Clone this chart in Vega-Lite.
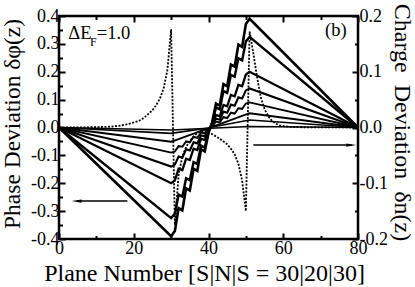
{
"$schema": "https://vega.github.io/schema/vega-lite/v6.json",
"width": 299, "height": 223,
"autosize": "none",
"padding": {"left": 59, "top": 16, "right": 57, "bottom": 48},
"background": "white",
"config": {
 "view": {"stroke": "black", "strokeWidth": 2.5},
 "axis": {"domain": false, "grid": false, "labelFont": "Liberation Serif", "labelFontSize": 18, "labelColor": "black", "titleFont": "Liberation Serif", "titleFontSize": 24, "titleFontWeight": "normal", "titleColor": "black", "tickColor": "black", "tickWidth": 2, "labelFlush": false, "labelOverlap": false}
},
"datasets": {
 "phase": [
  {"c":"c1","z":0,"v":0},{"c":"c1","z":30,"v":-0.39},{"c":"c1","z":31,"v":-0.371},{"c":"c1","z":32,"v":-0.289},{"c":"c1","z":33,"v":-0.297},{"c":"c1","z":34,"v":-0.218},{"c":"c1","z":35,"v":-0.226},{"c":"c1","z":36,"v":-0.148},{"c":"c1","z":37,"v":-0.156},{"c":"c1","z":38,"v":-0.078},{"c":"c1","z":39,"v":-0.086},{"c":"c1","z":40,"v":-0.02},{"c":"c1","z":41,"v":0.02},{"c":"c1","z":42,"v":0.086},{"c":"c1","z":43,"v":0.078},{"c":"c1","z":44,"v":0.156},{"c":"c1","z":45,"v":0.148},{"c":"c1","z":46,"v":0.226},{"c":"c1","z":47,"v":0.218},{"c":"c1","z":48,"v":0.297},{"c":"c1","z":49,"v":0.289},{"c":"c1","z":50,"v":0.371},{"c":"c1","z":51,"v":0.39},{"c":"c1","z":80,"v":0},
  {"c":"c2","z":0,"v":0},{"c":"c2","z":30,"v":-0.325},{"c":"c2","z":31,"v":-0.309},{"c":"c2","z":32,"v":-0.241},{"c":"c2","z":33,"v":-0.248},{"c":"c2","z":34,"v":-0.182},{"c":"c2","z":35,"v":-0.189},{"c":"c2","z":36,"v":-0.124},{"c":"c2","z":37,"v":-0.131},{"c":"c2","z":38,"v":-0.065},{"c":"c2","z":39,"v":-0.072},{"c":"c2","z":40,"v":-0.016},{"c":"c2","z":41,"v":0.016},{"c":"c2","z":42,"v":0.072},{"c":"c2","z":43,"v":0.065},{"c":"c2","z":44,"v":0.131},{"c":"c2","z":45,"v":0.124},{"c":"c2","z":46,"v":0.189},{"c":"c2","z":47,"v":0.182},{"c":"c2","z":48,"v":0.248},{"c":"c2","z":49,"v":0.241},{"c":"c2","z":50,"v":0.309},{"c":"c2","z":51,"v":0.325},{"c":"c2","z":80,"v":0},
  {"c":"c3","z":0,"v":0},{"c":"c3","z":30,"v":-0.2},{"c":"c3","z":31,"v":-0.19},{"c":"c3","z":32,"v":-0.148},{"c":"c3","z":33,"v":-0.153},{"c":"c3","z":34,"v":-0.112},{"c":"c3","z":35,"v":-0.117},{"c":"c3","z":36,"v":-0.076},{"c":"c3","z":37,"v":-0.081},{"c":"c3","z":38,"v":-0.04},{"c":"c3","z":39,"v":-0.045},{"c":"c3","z":40,"v":-0.01},{"c":"c3","z":41,"v":0.01},{"c":"c3","z":42,"v":0.045},{"c":"c3","z":43,"v":0.04},{"c":"c3","z":44,"v":0.081},{"c":"c3","z":45,"v":0.076},{"c":"c3","z":46,"v":0.117},{"c":"c3","z":47,"v":0.112},{"c":"c3","z":48,"v":0.153},{"c":"c3","z":49,"v":0.148},{"c":"c3","z":50,"v":0.19},{"c":"c3","z":51,"v":0.2},{"c":"c3","z":80,"v":0},
  {"c":"c4","z":0,"v":0},{"c":"c4","z":30,"v":-0.14},{"c":"c4","z":31,"v":-0.133},{"c":"c4","z":32,"v":-0.104},{"c":"c4","z":33,"v":-0.108},{"c":"c4","z":34,"v":-0.078},{"c":"c4","z":35,"v":-0.082},{"c":"c4","z":36,"v":-0.053},{"c":"c4","z":37,"v":-0.057},{"c":"c4","z":38,"v":-0.028},{"c":"c4","z":39,"v":-0.032},{"c":"c4","z":40,"v":-0.007},{"c":"c4","z":41,"v":0.007},{"c":"c4","z":42,"v":0.032},{"c":"c4","z":43,"v":0.028},{"c":"c4","z":44,"v":0.057},{"c":"c4","z":45,"v":0.053},{"c":"c4","z":46,"v":0.082},{"c":"c4","z":47,"v":0.078},{"c":"c4","z":48,"v":0.108},{"c":"c4","z":49,"v":0.104},{"c":"c4","z":50,"v":0.133},{"c":"c4","z":51,"v":0.14},{"c":"c4","z":80,"v":0},
  {"c":"c5","z":0,"v":0},{"c":"c5","z":30,"v":-0.09},{"c":"c5","z":31,"v":-0.086},{"c":"c5","z":32,"v":-0.067},{"c":"c5","z":33,"v":-0.069},{"c":"c5","z":34,"v":-0.05},{"c":"c5","z":35,"v":-0.053},{"c":"c5","z":36,"v":-0.034},{"c":"c5","z":37,"v":-0.037},{"c":"c5","z":38,"v":-0.018},{"c":"c5","z":39,"v":-0.021},{"c":"c5","z":40,"v":-0.005},{"c":"c5","z":41,"v":0.005},{"c":"c5","z":42,"v":0.021},{"c":"c5","z":43,"v":0.018},{"c":"c5","z":44,"v":0.037},{"c":"c5","z":45,"v":0.034},{"c":"c5","z":46,"v":0.053},{"c":"c5","z":47,"v":0.05},{"c":"c5","z":48,"v":0.069},{"c":"c5","z":49,"v":0.067},{"c":"c5","z":50,"v":0.086},{"c":"c5","z":51,"v":0.09},{"c":"c5","z":80,"v":0},
  {"c":"c6","z":0,"v":0},{"c":"c6","z":30,"v":-0.051},{"c":"c6","z":32,"v":-0.042},{"c":"c6","z":34,"v":-0.032},{"c":"c6","z":36,"v":-0.022},{"c":"c6","z":38,"v":-0.012},{"c":"c6","z":40,"v":-0.003},{"c":"c6","z":41,"v":0.003},{"c":"c6","z":43,"v":0.012},{"c":"c6","z":45,"v":0.022},{"c":"c6","z":47,"v":0.032},{"c":"c6","z":49,"v":0.042},{"c":"c6","z":51,"v":0.051},{"c":"c6","z":80,"v":0},
  {"c":"c7","z":0,"v":0},{"c":"c7","z":30,"v":-0.021},{"c":"c7","z":40,"v":-0.002},{"c":"c7","z":41,"v":0.002},{"c":"c7","z":51,"v":0.027},{"c":"c7","z":80,"v":0},
  {"c":"c8","z":0,"v":0},{"c":"c8","z":30,"v":-0.009},{"c":"c8","z":51,"v":0.004},{"c":"c8","z":80,"v":0}
 ],
 "charge": [
  {"z":0,"q":0},{"z":8,"q":0.0004},{"z":12,"q":0.001},{"z":14,"q":0.0017},{"z":16,"q":0.003},{"z":18,"q":0.0055},{"z":20,"q":0.009},{"z":21,"q":0.011},{"z":22,"q":0.014},{"z":23,"q":0.019},{"z":24,"q":0.025},{"z":25,"q":0.031},{"z":26,"q":0.04},{"z":27,"q":0.052},{"z":28,"q":0.07},{"z":29,"q":0.103},{"z":30,"q":0.176},
  {"z":31,"q":-0.175},{"z":32,"q":-0.085},{"z":33,"q":-0.052},{"z":34,"q":-0.035},{"z":35,"q":-0.024},{"z":36,"q":-0.016},{"z":37,"q":-0.01},{"z":38,"q":-0.007},{"z":39,"q":-0.006},{"z":40,"q":-0.009},
  {"z":41,"q":-0.012},{"z":42,"q":-0.016},{"z":43,"q":-0.02},{"z":44,"q":-0.025},{"z":45,"q":-0.03},{"z":46,"q":-0.038},{"z":47,"q":-0.048},{"z":48,"q":-0.065},{"z":49,"q":-0.095},{"z":50,"q":-0.15},
  {"z":51,"q":0.172},{"z":52,"q":0.133},{"z":53,"q":0.09},{"z":54,"q":0.054},{"z":55,"q":0.033},{"z":56,"q":0.02},{"z":57,"q":0.012},{"z":58,"q":0.007},{"z":59,"q":0.004},{"z":60,"q":0.0025},{"z":62,"q":0.001},{"z":66,"q":0.0003},{"z":80,"q":0}
 ],
 "arrows": [
  {"d":"left","x1":18.3,"x2":4.8,"hx":4.7,"y":-0.264},
  {"d":"right","x1":52,"x2":78.3,"hx":78.2,"y":-0.063}
 ],
 "notes": [
  {"t":"ΔE","x":2.5,"y":0.316},
  {"t":"=1.0","x":10.1,"y":0.316},
  {"t":"(b)","x":71.2,"y":0.33}
 ],
 "subs": [
  {"t":"F","x":8.3,"y":0.294}
 ]
},
"layer": [
 {
  "data": {"name": "phase"},
  "mark": {"type": "line", "color": "black"},
  "encoding": {
   "x": {"field": "z", "type": "quantitative", "scale": {"domain": [0, 80], "nice": false},
    "axis": {"orient": "bottom", "values": [0,10,20,30,40,50,60,70,80],
     "tickSize": {"condition": {"test": "datum.value % 20 === 0", "value": -6}, "value": -3.5},
     "labelExpr": "datum.value % 20 === 0 ? datum.label : ''", "labelPadding": 6,
     "title": "Plane Number [S|N|S = 30|20|30]", "titleX": 145, "titleY": 41, "titleBaseline": "alphabetic", "titleAngle": 0}},
   "y": {"field": "v", "type": "quantitative", "scale": {"domain": [-0.4, 0.4], "nice": false},
    "axis": {"orient": "left", "values": [-0.4,-0.35,-0.3,-0.25,-0.2,-0.15,-0.1,-0.05,0,0.05,0.1,0.15,0.2,0.25,0.3,0.35,0.4],
     "tickSize": {"condition": {"test": "abs(datum.value*10-round(datum.value*10))<0.01", "value": -6}, "value": -3.5},
     "labelExpr": "abs(datum.value*10-round(datum.value*10))<0.01 ? (datum.value < 0 ? '-' : '') + format(abs(datum.value), '.1f') : ''",
     "labelPadding": 6,
     "title": "Phase Deviation δφ(z)", "titleFontSize": 23.5, "titleX": -39.5, "titleY": 107.5, "titleBaseline": "alphabetic", "titleAngle": 270, "titleAlign": "center"}},
   "detail": {"field": "c"},
   "strokeWidth": {"field": "c", "type": "ordinal", "scale": {"domain": ["c1","c2","c3","c4","c5","c6","c7","c8"], "range": [2.6,1.5,1.5,1.5,1.5,1.5,1.5,1.5]}, "legend": null}
  }
 },
 {
  "data": {"name": "charge"},
  "mark": {"type": "line", "color": "black", "strokeWidth": 1.8, "strokeDash": [2, 1.5]},
  "encoding": {
   "x": {"field": "z", "type": "quantitative", "scale": {"domain": [0, 80], "nice": false},
    "axis": {"orient": "top", "values": [0,10,20,30,40,50,60,70,80],
     "tickSize": {"condition": {"test": "datum.value % 20 === 0", "value": -6}, "value": -3.5},
     "labels": false, "title": null}},
   "y": {"field": "q", "type": "quantitative", "scale": {"domain": [-0.2, 0.2], "nice": false},
    "axis": {"orient": "right", "values": [-0.2,-0.15,-0.1,-0.05,0,0.05,0.1,0.15,0.2],
     "tickSize": {"condition": {"test": "abs(datum.value*10-round(datum.value*10))<0.01", "value": -6}, "value": -3.5},
     "labelExpr": "abs(datum.value*10-round(datum.value*10))<0.01 ? (datum.value < 0 ? '-' : '') + format(abs(datum.value), '.1f') : ''",
     "labelPadding": 7,
     "title": "Charge\u00a0\u00a0Deviation\u00a0\u00a0δn(z)", "titleX": 36, "titleY": 106, "titleBaseline": "alphabetic", "titleAngle": 90, "titleAlign": "center"}}
  }
 },
 {
  "data": {"name": "arrows"},
  "mark": {"type": "rule", "color": "black", "strokeWidth": 1.5},
  "encoding": {
   "x": {"field": "x1", "type": "quantitative", "scale": {"domain": [0, 80], "nice": false}, "axis": null},
   "x2": {"field": "x2"},
   "y": {"field": "y", "type": "quantitative", "scale": {"domain": [-0.4, 0.4], "nice": false}, "axis": null}
  }
 },
 {
  "data": {"name": "arrows"},
  "mark": {"type": "point", "filled": true, "color": "black", "opacity": 1, "size": 100},
  "encoding": {
   "x": {"field": "hx", "type": "quantitative", "scale": {"domain": [0, 80], "nice": false}, "axis": null},
   "y": {"field": "y", "type": "quantitative", "scale": {"domain": [-0.4, 0.4], "nice": false}, "axis": null},
   "shape": {"field": "d", "type": "nominal", "scale": {"domain": ["left", "right"], "range": ["M-1,0L1,-0.33L1,0.33Z", "M1,0L-1,-0.33L-1,0.33Z"]}, "legend": null}
  }
 },
 {
  "data": {"name": "notes"},
  "mark": {"type": "text", "font": "Liberation Serif", "fontSize": 18.5, "align": "left", "baseline": "alphabetic", "color": "black"},
  "encoding": {
   "x": {"field": "x", "type": "quantitative", "scale": {"domain": [0, 80], "nice": false}, "axis": null},
   "y": {"field": "y", "type": "quantitative", "scale": {"domain": [-0.4, 0.4], "nice": false}, "axis": null},
   "text": {"field": "t"}
  }
 },
 {
  "data": {"name": "subs"},
  "mark": {"type": "text", "font": "Liberation Serif", "fontSize": 12, "align": "left", "baseline": "alphabetic", "color": "black"},
  "encoding": {
   "x": {"field": "x", "type": "quantitative", "scale": {"domain": [0, 80], "nice": false}, "axis": null},
   "y": {"field": "y", "type": "quantitative", "scale": {"domain": [-0.4, 0.4], "nice": false}, "axis": null},
   "text": {"field": "t"}
  }
 }
],
"resolve": {"scale": {"y": "independent"}, "axis": {"x": "independent", "y": "independent"}}
}
